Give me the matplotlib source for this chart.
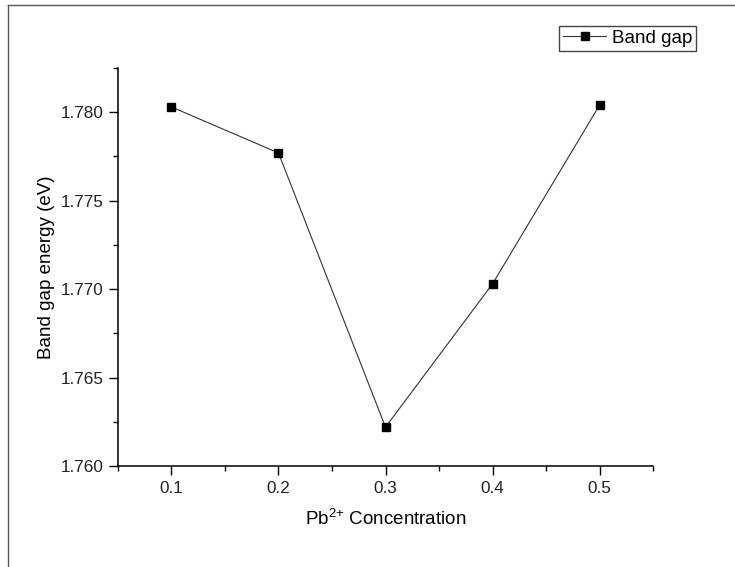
import matplotlib
matplotlib.use("Agg")
import matplotlib.pyplot as plt
from matplotlib.lines import Line2D
from matplotlib.ticker import MultipleLocator, FormatStrFormatter

# Pb2+ concentration vs band gap energy
concentration = [0.1, 0.2, 0.3, 0.4, 0.5]
band_gap = [1.7803, 1.7777, 1.7622, 1.7703, 1.7804]

plt.rcParams["font.family"] = ["Liberation Sans", "DejaVu Sans"]
plt.rcParams["mathtext.fontset"] = "custom"
plt.rcParams["mathtext.rm"] = "Liberation Sans"

fig = plt.figure(figsize=(7.35, 5.67), dpi=100)
ax = fig.add_axes([0.1605, 0.178, 0.728, 0.702])

ax.plot(concentration, band_gap, color="#333333", lw=0.8, marker="s",
        ms=6, mfc="black", mec="black", label="Band gap")

ax.set_xlim(0.05, 0.55)
ax.set_ylim(1.760, 1.7825)
ax.xaxis.set_major_locator(MultipleLocator(0.1))
ax.xaxis.set_minor_locator(MultipleLocator(0.05))
ax.yaxis.set_major_locator(MultipleLocator(0.005))
ax.yaxis.set_minor_locator(MultipleLocator(0.0025))
ax.yaxis.set_major_formatter(FormatStrFormatter("%.3f"))
ax.xaxis.set_major_formatter(FormatStrFormatter("%.1f"))

for side in ("top", "right"):
    ax.spines[side].set_visible(False)
for side in ("left", "bottom"):
    ax.spines[side].set_linewidth(1.1)
ax.tick_params(which="major", direction="out", length=6.5, width=1.0,
               labelsize=12.3, pad=4, colors="black", labelcolor="#222222")
ax.tick_params(which="minor", direction="out", length=3.5, width=1.0)

ax.set_xlabel(r"Pb$^{\mathregular{2{+}}}$ Concentration", fontsize=13.5, labelpad=9)
ax.set_ylabel("Band gap energy (eV)", fontsize=13.5, labelpad=4)

ax.legend(loc="upper right", bbox_to_anchor=(696 / 735, 1 - 26 / 567),
          bbox_transform=fig.transFigure, fontsize=13.5, frameon=True,
          fancybox=False, edgecolor="#444444", framealpha=1,
          borderpad=0.2, handlelength=2.3, handletextpad=0.3,
          borderaxespad=0)

# outer frame (top and left edges visible in the source image)
fig.add_artist(Line2D([8 / 735, 1], [1 - 5 / 567, 1 - 5 / 567],
                      transform=fig.transFigure, color="#555555", lw=1))
fig.add_artist(Line2D([8 / 735, 8 / 735], [0, 1 - 5 / 567],
                      transform=fig.transFigure, color="#555555", lw=1))

fig.savefig("out.png", dpi=100)
